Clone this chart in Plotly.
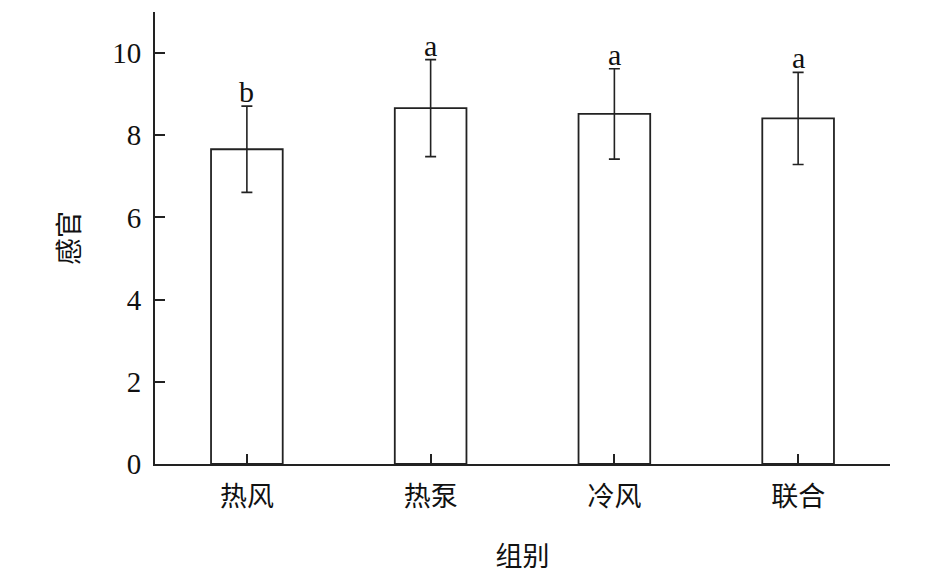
import plotly.graph_objects as go

categories = ["热风", "热泵", "冷风", "联合"]
means = [7.66, 8.66, 8.52, 8.41]
errors = [1.05, 1.18, 1.10, 1.12]
letters = ["b", "a", "a", "a"]
y_ticks = [0, 2, 4, 6, 8, 10]

FONT = '"Liberation Serif", "Times New Roman", "Noto Sans CJK SC", serif'

fig = go.Figure()
fig.add_trace(go.Bar(
    x=categories, y=means,
    width=0.39,
    marker=dict(color="white", line=dict(color="#222", width=1.8)),
    error_y=dict(type="data", array=errors, color="#222", thickness=1.6, width=5.5),
    showlegend=False,
))

for c, m, e, l in zip(categories, means, errors, letters):
    fig.add_annotation(x=c, y=m + e, text=l, showarrow=False, yanchor="bottom",
                       yshift=-4, font=dict(family=FONT, size=30, color="#111"))

fig.update_layout(
    width=942, height=572,
    margin=dict(l=147, r=60, t=4, b=116),
    plot_bgcolor="white", paper_bgcolor="white",
    font=dict(family=FONT, size=28, color="#111"),
)
fig.update_xaxes(
    range=[-0.5, 3.5], showline=True, linecolor="#222", linewidth=2,
    ticks="inside", ticklen=10, tickwidth=1.5, tickcolor="#222",
    ticklabelstandoff=8,
    tickfont=dict(family=FONT, size=27),
    title=dict(text="组别", standoff=36, font=dict(family=FONT, size=27)),
    showgrid=False, zeroline=False,
)
fig.update_yaxes(
    range=[0, 11], showline=True, linecolor="#222", linewidth=2,
    tickvals=y_ticks, ticks="inside", ticklen=10, tickwidth=1.5, tickcolor="#222",
    ticklabelstandoff=6,
    tickfont=dict(family=FONT, size=29),
    title=dict(text="感官", standoff=25, font=dict(family=FONT, size=27)),
    showgrid=False, zeroline=False,
)

fig.write_html("out.html")
